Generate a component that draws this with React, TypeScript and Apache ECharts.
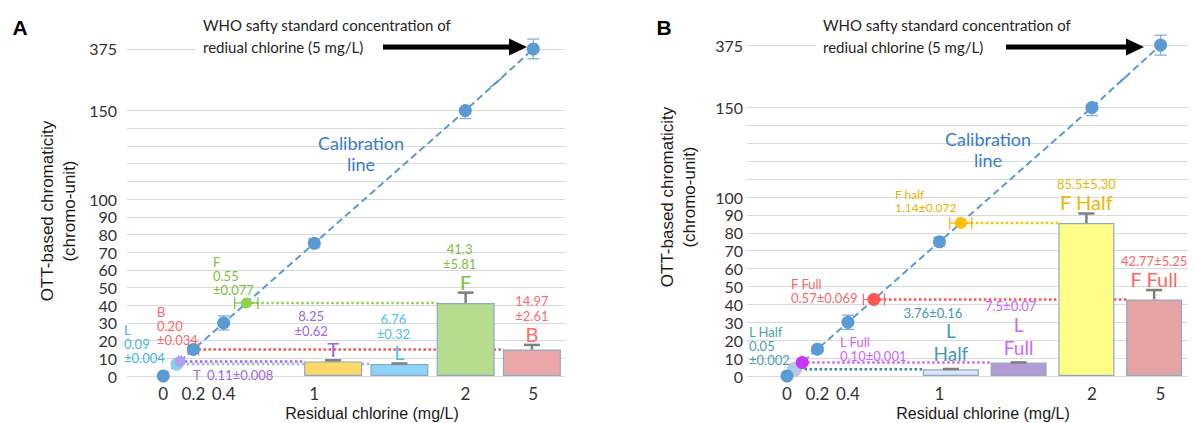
import React, { useEffect, useRef } from 'react';
import * as echarts from 'echarts';

// ---------------- data ----------------
const xTickValues = [0, 0.2, 0.4, 1, 2, 5];
const yLabelValues = [0, 10, 20, 30, 40, 50, 60, 70, 80, 90, 100, 150, 375];
const yGridValues = [0, 10, 20, 30, 40, 50, 60, 70, 80, 90, 100, 110, 120, 130, 140, 150, 375];

const calibX = [0, 0.2, 0.4, 1, 2, 5];
const calibY = [0, 15, 30, 75, 150, 375];
const calibErr = [0, 1.5, 4, 2.5, 4.5, 36];

// Panel A
const aSampleNames = ['L', 'T', 'B', 'F'];
const aSampleX = [0.09, 0.11, 0.2, 0.55];
const aSampleXErr = [0.004, 0.008, 0.034, 0.077];
const aSampleText = ['L\n0.09\n±0.004', 'T  0.11±0.008', 'B\n0.20\n±0.034', 'F\n0.55\n±0.077'];
const aBarNames = ['T', 'L', 'F', 'B'];
const aBarValues = [8.25, 6.76, 41.3, 14.97];
const aBarErr = [0.62, 0.32, 5.81, 2.61];
const aBarText = ['8.25\n±0.62', '6.76\n±0.32', '41.3\n±5.81', '14.97\n±2.61'];
const aBarLetter = ['T', 'L', 'F', 'B'];

// Panel B
const bSampleNames = ['L Half', 'L Full', 'F Full', 'F Half'];
const bSampleX = [0.05, 0.1, 0.57, 1.14];
const bSampleXErr = [0.002, 0.001, 0.069, 0.072];
const bSampleText = ['L Half\n0.05\n±0.002', 'L Full\n0.10±0.001', 'F Full\n0.57±0.069', 'F half\n1.14±0.072'];
const bBarNames = ['L Half', 'L Full', 'F Half', 'F Full'];
const bBarValues = [3.76, 7.5, 85.5, 42.77];
const bBarErr = [0.16, 0.07, 5.3, 5.25];
const bBarText = ['3.76±0.16', '7.5±0.07', '85.5±5.30', '42.77±5.25'];
const bBarLetter = ['L\nHalf', 'L\nFull', 'F Half', 'F Full'];

// ---------------- broken-axis transforms ----------------
const KX = 0.15;
const KY = 0.155;
const fx = (v: number) => (v <= 2 ? v : 2 + (v - 2) * KX);
const invX = (v: number) => (v <= 2.0001 ? v : 2 + (v - 2) / KX);
const fy = (v: number) => (v <= 150 ? v : 150 + (v - 150) * KY);
const invY = (v: number) => (v <= 150.001 ? v : 150 + (v - 150) / KY);
const Y_MAX = 195;

const FONT = 'Lato';
const CAL = '#5b9bd5';

type Panel = {
  key: string;
  sampleNames: string[]; sampleX: number[]; sampleXErr: number[]; sampleText: string[];
  barNames: string[]; barValues: number[]; barErr: number[]; barText: string[]; barLetter: string[];
  left: number; right: number; top: number; bottom: number;
  barLeft: number; barWidth: number; xMin: number; xMax: number;
  yLabelMargin: number; smallDx: number[];
  pointColor: Record<string, string>; pointSize: Record<string, number>;
  textColor: Record<string, string>; dotColor: Record<string, string>;
  barColor: Record<string, string>; barTextColor: Record<string, string>;
  labelPos: Record<string, [number, number]>; labelFont: Record<string, number>;
  letter: [number, number]; yName: [number, number]; xName: [number, number];
  who: [number, number]; arrow: [number, number, number]; calText: [number, number];
};

const panels: Panel[] = [
  {
    key: 'A',
    sampleNames: aSampleNames, sampleX: aSampleX, sampleXErr: aSampleXErr, sampleText: aSampleText,
    barNames: aBarNames, barValues: aBarValues, barErr: aBarErr, barText: aBarText, barLetter: aBarLetter,
    left: 127, right: 632, top: 31, bottom: 47,
    barLeft: 300, barWidth: 58, xMin: -0.24, xMax: 2.66,
    yLabelMargin: 10, smallDx: [-22, -6, -6, 0],
    pointColor: { L: '#86d3e8', T: '#b19ff5', B: '#ff8080', F: '#8fd14f' },
    pointSize: { L: 13, T: 11, B: 11, F: 11 },
    textColor: { L: '#3fb8e0', T: '#9a66ee', B: '#ff6666', F: '#7cbf3a' },
    dotColor: { L: '#a9b9cc', T: '#9966ff', B: '#ff5050', F: '#92d050' },
    barColor: { T: '#ffd966', L: '#8dd4f6', F: '#b6dd8e', B: '#eba7a7' },
    barTextColor: { T: '#9a66ee', L: '#4cc3ea', F: '#7cbf3a', B: '#ff6b6b' },
    labelPos: { L: [124, 323], T: [193, 368], B: [157, 305], F: [213, 255] },
    labelFont: { L: 13, T: 13, B: 13, F: 13 },
    letter: [20, 27], yName: [58, 211], xName: [372, 413],
    who: [203, 25], arrow: [383, 509, 527], calText: [361, 143],
  },
  {
    key: 'B',
    sampleNames: bSampleNames, sampleX: bSampleX, sampleXErr: bSampleXErr, sampleText: bSampleText,
    barNames: bBarNames, barValues: bBarValues, barErr: bBarErr, barText: bBarText, barLetter: bBarLetter,
    left: 747, right: 9, top: 27, bottom: 47,
    barLeft: 917, barWidth: 56, xMin: -0.262, xMax: 2.63,
    yLabelMargin: 4, smallDx: [-18, -8, 0, 0],
    pointColor: { 'L Half': '#b4c9e6', 'L Full': '#cc33ff', 'F Full': '#ff5555', 'F Half': '#ffc000' },
    pointSize: { 'L Half': 15, 'L Full': 13, 'F Full': 13, 'F Half': 12 },
    textColor: { 'L Half': '#4b9fb8', 'L Full': '#cc66ff', 'F Full': '#ff6666', 'F Half': '#f0b000' },
    dotColor: { 'L Half': '#31859c', 'L Full': '#cc66ff', 'F Full': '#ff5050', 'F Half': '#ffc000' },
    barColor: { 'L Half': '#dbe7f4', 'L Full': '#b49bd6', 'F Half': '#ffff88', 'F Full': '#e6a3a3' },
    barTextColor: { 'L Half': '#3f9ab4', 'L Full': '#cc66ff', 'F Half': '#f2b400', 'F Full': '#ff6666' },
    labelPos: { 'L Half': [749, 325], 'L Full': [840, 335], 'F Full': [791, 277], 'F Half': [895, 188] },
    labelFont: { 'L Half': 13, 'L Full': 13, 'F Full': 13, 'F Half': 12 },
    letter: [664, 27], yName: [678, 197], xName: [983, 413],
    who: [823, 25], arrow: [1006, 1126, 1144], calText: [988, 139],
  },
];

const txt = (x: number, y: number, text: string, fill: string, font: string, align = 'left', valign = 'middle', extra: any = {}) => ({
  type: 'text', x, y, z: 100, silent: true,
  style: { text, fill, font, align, textAlign: align, verticalAlign: valign, textVerticalAlign: valign, ...extra },
});

type Extra = { dots: Record<string, number[][]>; marks: any[] } | null;

function buildOption(extra: Extra) {
  const grid: any[] = [];
  const xAxis: any[] = [];
  const yAxis: any[] = [];
  const series: any[] = [];
  const graphic: any[] = [];

  panels.forEach((p, pi) => {
    const m = pi * 2;
    const b = pi * 2 + 1;
    const sampleY = p.sampleNames.map((n) => p.barValues[p.barNames.indexOf(n)]);

    grid.push({ left: p.left, right: p.right, top: p.top, bottom: p.bottom });
    grid.push({ left: p.barLeft, right: p.right, top: p.top, bottom: p.bottom });

    xAxis.push({
      type: 'value', gridIndex: m, min: p.xMin, max: p.xMax,
      axisLine: { show: false },
      axisTick: { show: false, customValues: xTickValues.map(fx) },
      splitLine: { show: false },
      axisLabel: {
        customValues: xTickValues.map(fx),
        formatter: (v: number) => String(Number(invX(v).toFixed(2))),
        fontFamily: FONT, fontSize: 17, color: '#333', margin: 9,
      },
    });
    xAxis.push({ type: 'category', gridIndex: b, data: p.barNames, show: false });

    yAxis.push({
      type: 'value', gridIndex: m, min: 0, max: Y_MAX,
      axisLine: { show: false },
      axisTick: { show: false, customValues: yGridValues.map(fy) },
      splitLine: { show: true, lineStyle: { color: '#d9d9d9', width: 1 } },
      axisLabel: {
        customValues: yLabelValues.map(fy),
        formatter: (v: number) => String(Math.round(invY(v))),
        fontFamily: FONT, fontSize: 16, color: '#333', margin: p.yLabelMargin,
      },
    });
    yAxis.push({ type: 'value', gridIndex: b, min: 0, max: Y_MAX, show: false });

    // calibration dashed line
    series.push({
      type: 'line', xAxisIndex: m, yAxisIndex: m, z: 2, silent: true,
      symbol: 'none', showSymbol: false,
      data: calibX.map((x, i) => [fx(x), fy(calibY[i])]),
      lineStyle: { color: CAL, width: 2, type: [7, 4] },
    });

    // dotted guide lines from samples to bars
    p.sampleNames.forEach((n, i) => {
      series.push({
        type: 'line', xAxisIndex: m, yAxisIndex: m, z: 2, silent: true,
        symbol: 'none', showSymbol: false,
        data: extra ? extra.dots[p.key + i] : [],
        lineStyle: { color: p.dotColor[n], width: 2.5, type: [2.5, 2.5] },
      });
    });

    // bars
    series.push({
      type: 'bar', xAxisIndex: b, yAxisIndex: b, z: 3, silent: true,
      barWidth: p.barWidth,
      data: p.barValues.map((v, i) => ({ value: fy(v), itemStyle: { color: p.barColor[p.barNames[i]] } })),
      itemStyle: { borderColor: '#8ea9c4', borderWidth: 1.2 },
    });

    // bar error bars and labels
    series.push({
      type: 'custom', xAxisIndex: b, yAxisIndex: b, z: 4, silent: true,
      data: p.barValues.map((v, i) => [i, fy(v)]),
      renderItem: (params: any, api: any) => {
        const i = params.dataIndex;
        const v = p.barValues[i];
        const e = p.barErr[i];
        const base = api.coord([i, fy(v)]);
        const top = api.coord([i, fy(v + e)]);
        const cx = base[0];
        const col = p.barTextColor[p.barNames[i]];
        const bigParts = p.barLetter[i].split('\n');
        const bigLines = bigParts.length;
        const lh = bigLines > 1 ? 23 : 20;
        const fsz = bigLines > 1 ? 19 : 20;
        const smallLines = p.barText[i].split('\n').length;
        const bigCenter = top[1] - 11 - (bigLines - 1) * 15.5;
        const topLine = bigCenter - ((bigLines - 1) * lh) / 2;
        const smallCenter = topLine - 10.5 - smallLines * 7.5;
        const smallTop = smallCenter - (smallLines * 15) / 2;
        const st = { stroke: '#7f7f7f', lineWidth: 2.5 };
        const children: any[] = [
          { type: 'line', shape: { x1: cx, y1: base[1], x2: cx, y2: top[1] }, style: st },
          { type: 'line', shape: { x1: cx - 8, y1: top[1], x2: cx + 8, y2: top[1] }, style: st },
        ];
        bigParts.forEach((part, k) => {
          const cy = topLine + k * lh;
          children.push({
            type: 'text', x: cx, y: cy - lh / 2,
            style: { text: part, fill: col, font: `${fsz}px ${FONT}`, align: 'center', textAlign: 'center', verticalAlign: 'top', textVerticalAlign: 'top', lineHeight: lh },
          });
        });
        children.push({
          type: 'text', x: cx + p.smallDx[i], y: smallTop,
          style: { text: p.barText[i], fill: col, font: `13px ${FONT}`, align: 'center', textAlign: 'center', verticalAlign: 'top', textVerticalAlign: 'top', lineHeight: 15 },
        });
        return { type: 'group', children };
      },
    });

    // sample horizontal error bars
    series.push({
      type: 'custom', xAxisIndex: m, yAxisIndex: m, z: 4, silent: true,
      data: p.sampleX.map((x, i) => [fx(x), fy(sampleY[i])]),
      renderItem: (params: any, api: any) => {
        const i = params.dataIndex;
        const x = p.sampleX[i];
        const e = p.sampleXErr[i];
        const y = fy(sampleY[i]);
        const l = api.coord([fx(x - e), y]);
        const r = api.coord([fx(x + e), y]);
        const st = { stroke: p.textColor[p.sampleNames[i]], lineWidth: 1.2 };
        return {
          type: 'group',
          children: [
            { type: 'line', shape: { x1: l[0], y1: l[1], x2: r[0], y2: r[1] }, style: st },
            { type: 'line', shape: { x1: l[0], y1: l[1] - 6, x2: l[0], y2: l[1] + 6 }, style: st },
            { type: 'line', shape: { x1: r[0], y1: r[1] - 6, x2: r[0], y2: r[1] + 6 }, style: st },
          ],
        };
      },
    });

    // sample points
    series.push({
      type: 'scatter', xAxisIndex: m, yAxisIndex: m, z: 5, silent: true,
      data: p.sampleNames.map((n, i) => ({
        value: [fx(p.sampleX[i]), fy(sampleY[i])],
        symbolSize: p.pointSize[n],
        itemStyle: { color: p.pointColor[n], opacity: 1 },
      })),
    });

    // calibration vertical error bars
    series.push({
      type: 'custom', xAxisIndex: m, yAxisIndex: m, z: 5, silent: true,
      data: calibX.map((x, i) => [fx(x), fy(calibY[i])]),
      renderItem: (params: any, api: any) => {
        const i = params.dataIndex;
        const e = calibErr[i];
        const x = fx(calibX[i]);
        const t = api.coord([x, fy(calibY[i] + e)]);
        const bt = api.coord([x, fy(calibY[i] - e)]);
        const st = { stroke: '#7fb0de', lineWidth: 1.3 };
        if (!e) return { type: 'group', children: [] };
        return {
          type: 'group',
          children: [
            { type: 'line', shape: { x1: t[0], y1: t[1], x2: bt[0], y2: bt[1] }, style: st },
            { type: 'line', shape: { x1: t[0] - 6, y1: t[1], x2: t[0] + 6, y2: t[1] }, style: st },
            { type: 'line', shape: { x1: bt[0] - 6, y1: bt[1], x2: bt[0] + 6, y2: bt[1] }, style: st },
          ],
        };
      },
    });

    // calibration points
    series.push({
      type: 'scatter', xAxisIndex: m, yAxisIndex: m, z: 6, silent: true,
      symbolSize: 13,
      itemStyle: { color: CAL, opacity: 1 },
      data: calibX.map((x, i) => [fx(x), fy(calibY[i])]),
    });

    // ---------- annotations ----------
    graphic.push(txt(p.letter[0], p.letter[1], p.key, '#000', `bold 21px "Liberation Sans"`, 'center'));
    graphic.push({
      ...txt(p.yName[0], p.yName[1], 'OTT-based chromaticity\n(chromo-unit)', '#1a1a1a', `17px "Liberation Sans"`, 'center', 'middle', { lineHeight: 22 }),
      rotation: Math.PI / 2,
    });
    graphic.push(txt(p.xName[0], p.xName[1], 'Residual chlorine (mg/L)', '#1a1a1a', `16px "Liberation Sans"`, 'center'));

    // WHO note + arrow
    graphic.push({ type: 'rect', z: 99, silent: true, shape: { x: p.who[0] - 7, y: 41, width: p.arrow[0] - p.who[0] + 7, height: 12 }, style: { fill: '#fff' } });
    graphic.push(txt(p.who[0], p.who[1], 'WHO safty standard concentration of', '#262626', `15px ${FONT}`));
    graphic.push(txt(p.who[0], p.who[1] + 22, 'rediual chlorine (5 mg/L)', '#262626', `15px ${FONT}`));
    graphic.push({ type: 'line', z: 100, silent: true, shape: { x1: p.arrow[0], y1: 47, x2: p.arrow[1] + 2, y2: 47 }, style: { stroke: '#000', lineWidth: 5 } });
    graphic.push({ type: 'polygon', z: 100, silent: true, shape: { points: [[p.arrow[1], 38.5], [p.arrow[2], 47], [p.arrow[1], 55.5]] }, style: { fill: '#000' } });

    // calibration line label
    graphic.push(txt(p.calText[0], p.calText[1], 'Calibration', '#3a7dc9', `18px ${FONT}`, 'center'));
    graphic.push(txt(p.calText[0], p.calText[1] + 21, 'line', '#3a7dc9', `18px ${FONT}`, 'center'));

    // sample labels
    p.sampleNames.forEach((n, i) => {
      const pos = p.labelPos[n];
      const fs = p.labelFont[n];
      graphic.push(txt(pos[0], pos[1], p.sampleText[i], p.textColor[n], `${fs}px ${FONT}`, 'left', 'top', { lineHeight: fs + 1 }));
    });
  });

  if (extra) extra.marks.forEach((mk) => graphic.push(mk));

  return {
    animation: false,
    backgroundColor: '#ffffff',
    grid, xAxis, yAxis, series, graphic,
  };
}

export default function App() {
  const ref = useRef<HTMLDivElement>(null);
  useEffect(() => {
    const el = ref.current;
    if (!el) return;
    const chart = echarts.init(el, null, { renderer: 'svg' });
    chart.setOption(buildOption(null) as any, { notMerge: true });

    const dots: Record<string, number[][]> = {};
    const marks: any[] = [];
    panels.forEach((p, pi) => {
      const m = pi * 2;
      const b = pi * 2 + 1;
      const sampleY = p.sampleNames.map((n) => p.barValues[p.barNames.indexOf(n)]);
      p.sampleNames.forEach((n, i) => {
        const bi = p.barNames.indexOf(n);
        const cx = chart.convertToPixel({ xAxisIndex: b } as any, bi) as unknown as number;
        const xv = chart.convertFromPixel({ xAxisIndex: m } as any, cx - p.barWidth / 2 + 1) as unknown as number;
        dots[p.key + i] = [[fx(p.sampleX[i]), fy(sampleY[i])], [xv, fy(sampleY[i])]];
      });
      const a = chart.convertToPixel({ xAxisIndex: m, yAxisIndex: m } as any, [fx(2), fy(150)]) as unknown as number[];
      const c = chart.convertToPixel({ xAxisIndex: m, yAxisIndex: m } as any, [fx(5), fy(375)]) as unknown as number[];
      const t = 0.45;
      const mx = a[0] + (c[0] - a[0]) * t;
      const my = a[1] + (c[1] - a[1]) * t;
      const len = Math.hypot(c[0] - a[0], c[1] - a[1]);
      const ux = (c[0] - a[0]) / len;
      const uy = (c[1] - a[1]) / len;
      const dx = Math.cos(Math.PI / 5);
      const dy = -Math.sin(Math.PI / 5);
      [-2.5, 2.5].forEach((o) => {
        const px = mx + ux * o;
        const py = my + uy * o;
        marks.push({
          type: 'line', z: 100, silent: true,
          shape: { x1: px - dx * 5, y1: py - dy * 5, x2: px + dx * 5, y2: py + dy * 5 },
          style: { stroke: CAL, lineWidth: 1.5 },
        });
      });
    });

    chart.setOption(buildOption({ dots, marks }) as any, { notMerge: true });
    return () => chart.dispose();
  }, []);
  return (
    <div
      ref={ref}
      style={{ position: 'fixed', left: 0, top: 0, width: 1197, height: 423, background: '#fff' }}
    />
  );
}
